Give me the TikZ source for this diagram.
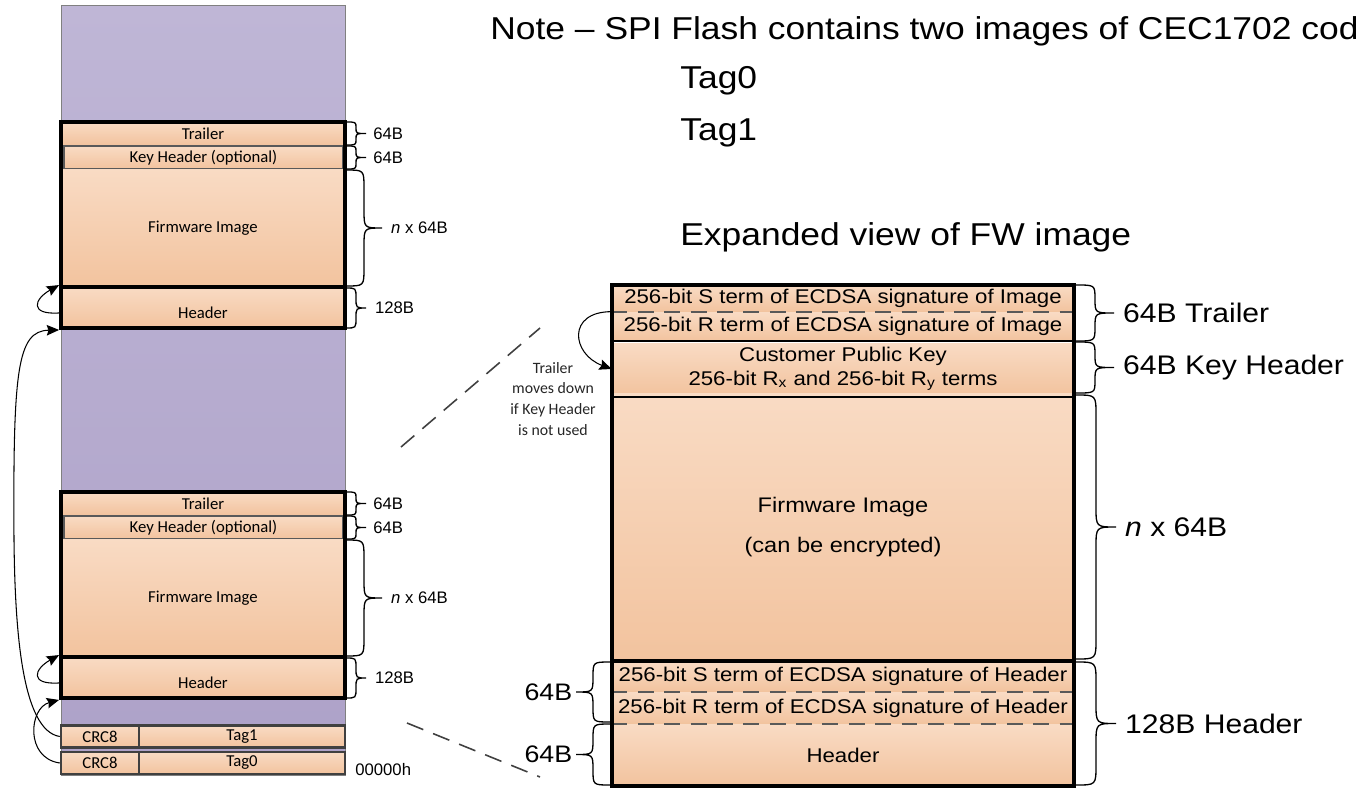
\documentclass[tikz,border=0pt]{standalone}
\usepackage{fontspec}
\setmainfont{Liberation Sans}
\newfontfamily\calib{Carlito}
\newfontfamily\widesf[FakeStretch=1.12]{Liberation Sans}
\usetikzlibrary{arrows.meta}

\definecolor{flashtop}{RGB}{191,182,214}
\definecolor{flashbot}{RGB}{173,161,200}
\definecolor{peachtop}{RGB}{249,219,196}
\definecolor{peachbot}{RGB}{242,195,158}
\definecolor{edgegray}{RGB}{89,89,89}
\definecolor{tagedge}{RGB}{64,64,64}

\def\upx{0.02cm}

% curly brace from (x,ytop) to (x,ybot), width w (negative = to the left), tip named #5
\newcommand{\sbrace}[5]{%
  \pgfmathsetmacro\bmid{(#2+#3)/2}%
  \pgfmathsetmacro\brad{min(abs(#4)/2,(#3-#2)/4)}%
  \pgfmathsetmacro\bx{#1+(#4)/2}%
  \pgfmathsetmacro\bt{#1+(#4)}%
  \draw[brc] (#1,#2) .. controls (\bx,#2) .. (\bx,#2+\brad) -- (\bx,\bmid-\brad)
    .. controls (\bx,\bmid) .. (\bt,\bmid) .. controls (\bx,\bmid) .. (\bx,\bmid+\brad)
    -- (\bx,#3-\brad) .. controls (\bx,#3) .. (#1,#3);
  \coordinate (#5) at (\bt,\bmid);}

\begin{document}
\begin{tikzpicture}[x=0.02cm,y=-0.02cm,
  peach/.style={shape=rectangle,top color=peachtop,bottom color=peachbot,inner sep=0pt,
    font=\calib\fontsize{9.5}{11}\selectfont},
  rowR/.style={peach,minimum width=462*\upx,align=center,
    font=\widesf\fontsize{11.3}{13.6}\selectfont},
  thickbox/.style={shape=rectangle,draw=black,line width=2.2pt,inner sep=0pt},
  tagcell/.style={peach,draw=tagedge,line width=1.4pt,minimum height=22*\upx},
  brc/.style={line width=0.75pt},
  collbl/.style={inner sep=0pt,font=\fontsize{9.5}{11}\selectfont},
  biglbl/.style={inner sep=0pt,font=\widesf\fontsize{15.3}{18}\selectfont},
  toptxt/.style={inner sep=0pt,anchor=west,font=\widesf\fontsize{18}{21}\selectfont},
  flow/.style={-{Stealth[length=7pt,width=6pt,inset=1pt]},line width=0.6pt},
  dashline/.style={draw=edgegray,line width=1.1pt,dash pattern=on 9pt off 6pt},
  zoomline/.style={draw=tagedge,line width=0.9pt,dash pattern=on 10pt off 6pt}]
\useasboundingbox (0,0) rectangle (1356,788);

% flash column
\node[shape=rectangle,draw=gray,line width=0.5pt,top color=flashtop,bottom color=flashbot,
  minimum width=284*\upx,minimum height=770*\upx] (flash) at (203,390) {};

% image pointed to by Tag1
\node[peach,minimum width=284*\upx,minimum height=23*\upx] (trlA) at (203,133.5) {Trailer};
\node[peach,draw=edgegray,line width=1pt,minimum width=279*\upx,minimum height=23*\upx] (keyA) at (203.5,157.5) {Key Header (optional)};
\node[peach,minimum width=284*\upx,minimum height=118*\upx] (fwA) at (203,228) {Firmware Image};
\node[thickbox,minimum width=284*\upx,minimum height=165*\upx] (imgA) at (203,204.5) {};
\node[peach,thickbox,minimum width=284*\upx,minimum height=41*\upx,text height=12.4pt,text depth=0pt] (hdrA) at (203,307.5) {Header};

% image pointed to by Tag0
\node[peach,minimum width=284*\upx,minimum height=23*\upx] (trlB) at (203,503.5) {Trailer};
\node[peach,draw=edgegray,line width=1pt,minimum width=279*\upx,minimum height=23*\upx] (keyB) at (203.5,527.5) {Key Header (optional)};
\node[peach,minimum width=284*\upx,minimum height=118*\upx] (fwB) at (203,598) {Firmware Image};
\node[thickbox,minimum width=284*\upx,minimum height=165*\upx] (imgB) at (203,574.5) {};
\node[peach,thickbox,minimum width=284*\upx,minimum height=41*\upx,text height=12.4pt,text depth=0pt] (hdrB) at (203,677.5) {Header};

% tags
\node[tagcell,minimum width=78*\upx] (crc1) at (100,736.5) {CRC8};
\node[tagcell,minimum width=206*\upx] (tag1) at (242,736.5) {Tag1};
\node[tagcell,minimum width=78*\upx] (crc0) at (100,763) {CRC8};
\node[tagcell,minimum width=206*\upx] (tag0) at (242,763) {Tag0};

% pointers
\coordinate (bendL) at (14,540);
\draw[flow] ([yshift=-3.1pt]hdrA.west) .. controls +(-30,2) and +(-25,14) .. (hdrA.north west);
\draw[flow] ([yshift=-3.1pt]hdrB.west) .. controls +(-30,2) and +(-25,14) .. (hdrB.north west);
\draw[flow] (crc1.west) .. controls +(-38,-6) and +(1,90) .. (bendL)
  .. controls +(-1,-170) and +(-42,1) .. (hdrA.south west);
\draw[flow] (crc0.west) .. controls +(-35,-5) and +(-30,8) .. (hdrB.south west);

% sizes, left column
\sbrace{346}{122}{145}{20}{bTrlA}
\sbrace{346}{146}{169}{20}{bKeyA}
\sbrace{346}{170}{286}{36}{bFwA}
\sbrace{346}{288}{328}{20}{bHdrA}
\node[collbl,anchor=west] (sTrlA) at ([xshift=4pt]bTrlA) {64B};
\node[collbl,anchor=west] (sKeyA) at ([xshift=4pt]bKeyA) {64B};
\node[collbl,anchor=west] (sFwA) at ([xshift=5pt]bFwA) {\textit{n} x 64B};
\node[collbl,anchor=west] (sHdrA) at ([xshift=5pt]bHdrA) {128B};
\sbrace{346}{492}{515}{20}{bTrlB}
\sbrace{346}{516}{539}{20}{bKeyB}
\sbrace{346}{540}{656}{36}{bFwB}
\sbrace{346}{658}{698}{20}{bHdrB}
\node[collbl,anchor=west] (sTrlB) at ([xshift=4pt]bTrlB) {64B};
\node[collbl,anchor=west] (sKeyB) at ([xshift=4pt]bKeyB) {64B};
\node[collbl,anchor=west] (sFwB) at ([xshift=5pt]bFwB) {\textit{n} x 64B};
\node[collbl,anchor=west] (sHdrB) at ([xshift=5pt]bHdrB) {128B};
\node[collbl,anchor=west] (addr) at (355,770) {00000h};

% notes at top
\node[toptxt] (note) at (490,31) {Note – SPI Flash contains two images of CEC1702 code};
\node[toptxt] (tg0) at (680,81) {Tag0};
\node[toptxt] (tg1) at (680,133) {Tag1};
\node[toptxt] (expd) at (680,237) {Expanded view of FW image};

% expanded view
\node[rowR,minimum height=27*\upx] (sigSI) at (843,298.5) {256-bit S term of ECDSA signature of Image};
\node[rowR,minimum height=29*\upx] (sigRI) at (843,326.5) {256-bit R term of ECDSA signature of Image};
\node[rowR,minimum height=52*\upx,font=\widesf\fontsize{11.3}{13.4}\selectfont] (keyR) at (843,369) {Customer Public Key\\256-bit R\textsubscript{x} and 256-bit R\textsubscript{y} terms};
\node[rowR,minimum height=268*\upx,font=\widesf\fontsize{12}{22.7}\selectfont] (fwR) at (843,527) {Firmware Image\\(can be encrypted)};
\node[rowR,minimum height=31*\upx] (sigSH) at (843,676.5) {256-bit S term of ECDSA signature of Header};
\node[rowR,minimum height=32*\upx] (sigRH) at (843,708) {256-bit R term of ECDSA signature of Header};
\node[rowR,minimum height=62*\upx] (hdrR) at (843,755) {Header};
\draw[dashline] (sigSI.south west) -- (sigSI.south east);
\draw[line width=1pt] (sigRI.south west) -- (sigRI.south east);
\draw[line width=1.4pt] ([yshift=-1pt]keyR.south west) -- ([yshift=-1pt]keyR.south east);
\draw[line width=2.2pt] (fwR.south west) -- (fwR.south east);
\draw[dashline] (sigSH.south west) -- (sigSH.south east);
\draw[dashline] (sigRH.south west) -- (sigRH.south east);
\node[thickbox,minimum width=462*\upx,minimum height=501*\upx] (fwbox) at (843,535.5) {};

\draw[flow] (sigRI.north west) .. controls +(-45,0) and +(-40,-15) .. (keyR.west);
\node[align=center,inner sep=0pt,text=black!85,font=\calib\fontsize{9}{11.9}\selectfont] (mvnote) at (553,399) {Trailer\\moves down\\if Key Header\\is not used};

% zoom lines
\coordinate (zA1) at (401,447);
\coordinate (zA2) at (540,328);
\coordinate (zB1) at (407,723);
\coordinate (zB2) at (540,777);
\draw[zoomline] (zA1) -- (zA2);
\draw[zoomline] (zB1) -- (zB2);

% sizes, expanded view
\sbrace{1076}{285}{341}{38}{bTrlR}
\sbrace{1076}{342}{393}{38}{bKeyR}
\sbrace{1076}{395}{659}{40}{bFwR}
\sbrace{1076}{662}{785}{40}{bHdrR}
\node[biglbl,anchor=west] (sTrlR) at ([xshift=5pt]bTrlR) {64B Trailer};
\node[biglbl,anchor=west] (sKeyR) at ([xshift=5pt]bKeyR) {64B Key Header};
\node[biglbl,anchor=west] (sFwR) at ([xshift=5pt]bFwR) {\textit{n} x 64B};
\node[biglbl,anchor=west] (sHdrR) at ([xshift=5pt]bHdrR) {128B Header};
\sbrace{610}{662}{722}{-34}{bSH}
\sbrace{610}{724}{785}{-34}{bH}
\node[biglbl,anchor=east,font=\widesf\fontsize{13.6}{16}\selectfont] (sSH) at ([xshift=-2pt]bSH) {64B};
\node[biglbl,anchor=east,font=\widesf\fontsize{13.6}{16}\selectfont] (sH) at ([xshift=-2pt]bH) {64B};
\end{tikzpicture}
\end{document}
